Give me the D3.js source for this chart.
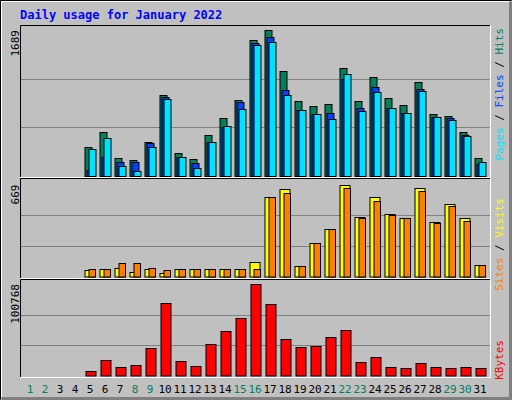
<!DOCTYPE html>
<html><head><meta charset="utf-8">
<script src="https://cdn.jsdelivr.net/npm/d3@7"></script>
<style>body{margin:0;background:#fff}svg{display:block}text{font-family:"DejaVu Sans Mono",monospace}</style>
</head><body><div id="chart"></div>
<script>
const days = d3.range(1, 32);
const weekends = [1, 2, 8, 9, 15, 16, 22, 23, 29, 30];
// values, days 1..31
const hits = [0,0,0,0,330,514,203,180,399,940,261,192,476,672,879,1574,1689,1217,868,810,833,1252,868,1144,902,821,1086,721,698,514,203];
const files = [0,0,0,0,69,215,157,157,376,917,215,146,388,572,856,1540,1609,998,768,721,733,1125,791,1033,791,733,1010,687,676,480,134];
const pages = [0,0,0,0,307,434,111,54,330,894,215,88,399,584,779,1517,1551,940,768,721,664,1182,756,975,791,733,987,687,653,457,157];
const visits = [0,0,0,0,44,51,65,36,51,29,58,51,51,58,58,102,577,635,73,242,349,669,436,577,458,429,647,395,524,429,87];
const sites = [0,0,0,0,51,58,95,95,65,44,58,51,51,58,58,51,577,606,73,242,349,640,422,548,450,422,625,388,516,407,80];
const kbytes = [0,0,0,0,4763,16853,9160,11359,30046,79498,15753,10260,34443,48738,63032,100768,78399,39943,31146,32245,42141,49838,14654,20150,9160,8061,13555,9160,8061,9160,8061];
const maxHits = 1689, maxVisits = 669, maxKB = 100768;

const W = 512, H = 400, L = 20, R = 490;
const svg = d3.select("#chart").append("svg").attr("width", W).attr("height", H);
svg.append("rect").attr("width", W).attr("height", H).attr("fill", "#c0c0c0");
svg.append("path").attr("d", "M0.5,399.5V0.5H511.5").attr("stroke", "#000").attr("fill", "none");
svg.append("path").attr("d", "M1.5,398.5V1.5H510.5").attr("stroke", "#fff").attr("fill", "none");
svg.append("path").attr("d", "M1.5,398.5H510.5V1.5").attr("stroke", "#808080").attr("stroke-width", 3).attr("fill", "none");

svg.append("text").attr("x", 20).attr("y", 19).attr("fill", "#0000ff")
  .attr("font-size", 12).attr("font-weight", "bold").text("Daily usage for January 2022");

const x = d3.scaleBand().domain(days).range([L + 7.5, L + 7.5 + 31 * 15]).paddingInner(0);

const panels = [
  {top: 25, bottom: 177, base: 176, peak: 30, max: maxHits, label: "1689"},
  {top: 178, bottom: 278, base: 276.5, peak: 184.5, max: maxVisits, label: "669"},
  {top: 279, bottom: 377, base: 375.5, peak: 284, max: maxKB, label: "100768"}
];
panels.forEach(p => {
  p.y = d3.scaleLinear().domain([0, p.max]).range([p.base, p.peak]);
  const g = svg.append("g");
  [1, 2].forEach(k => {
    const yy = Math.round(p.base - (p.base - p.peak) * k / 3) + 0.5;
    g.append("line").attr("x1", L).attr("x2", R).attr("y1", yy).attr("y2", yy).attr("stroke", "#808080");
  });
  g.append("path").attr("d", `M${L + .5},${p.bottom}V${p.top + .5}H${R}`).attr("stroke", "#000").attr("fill", "none");
  g.append("path").attr("d", `M${L},${p.bottom + .5}H${R + .5}V${p.top}`).attr("stroke", "#fff").attr("fill", "none");
  svg.append("text").attr("transform", `translate(19,${p.peak}) rotate(-90)`).attr("text-anchor", "end")
    .attr("font-size", 11).attr("fill", "#000").text(p.label);
});

function bars(data, panel, dx, w, color) {
  svg.append("g").selectAll("rect").data(days.filter((d, i) => data[i] > 0)).join("rect")
    .attr("x", d => x(d) + dx + 0.5).attr("width", w)
    .attr("y", d => Math.round(panel.y(data[d - 1])) + 0.5)
    .attr("height", d => panel.base - Math.round(panel.y(data[d - 1])))
    .attr("fill", color).attr("stroke", "#000");
}
bars(hits, panels[0], -3, 7, "#00805c");
bars(files, panels[0], -1, 7, "#0040ff");
bars(pages, panels[0], 1, 7, "#00e0ff");
bars(visits, panels[1], -3, 10, "#ffff00");
bars(sites, panels[1], 1, 6.5, "#ff8000");
bars(kbytes, panels[2], -2, 10, "#ff0000");

svg.append("g").selectAll("text").data(days).join("text")
  .attr("x", d => x(d) + 2.5).attr("y", 393).attr("text-anchor", "middle").attr("font-size", 11)
  .attr("fill", d => weekends.includes(d) ? "#00805c" : "#000").text(d => d);

function sideLabel(top, parts) {
  const t = svg.append("text").attr("transform", `translate(503,${top}) rotate(-90)`)
    .attr("font-size", 11).attr("text-anchor", "end");
  parts.forEach(([s, c]) => t.append("tspan").attr("fill", c).text(s));
}
sideLabel(28, [["Pages", "#00e0ff"], [" / ", "#000"], ["Files", "#0040ff"], [" / ", "#000"], ["Hits", "#00805c"]]);
sideLabel(198, [["Sites", "#ff8000"], [" / ", "#000"], ["Visits", "#ffff00"]]);
sideLabel(340, [["KBytes", "#ff0000"]]);
</script></body></html>
